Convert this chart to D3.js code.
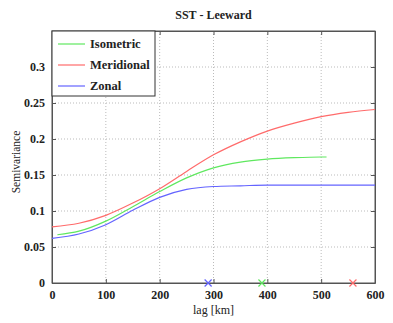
<!DOCTYPE html>
<html>
<head>
<meta charset="utf-8">
<script src="https://cdn.jsdelivr.net/npm/d3@7"></script>
<style>
  body { margin: 0; background: #fff; }
  text { font-family: "Liberation Serif", "DejaVu Serif", serif; fill: #222; }
</style>
</head>
<body>
<div id="chart"></div>
<script>
"use strict";

// values
const lagRed = [0, 50, 100, 150, 200, 250, 300, 350, 400, 450, 500, 550, 600];
const meridional = [0.078, 0.083, 0.094, 0.111, 0.131, 0.155, 0.178, 0.196, 0.211, 0.222, 0.231, 0.237, 0.241];
const lagGreen = [10, 50, 100, 150, 200, 250, 300, 350, 400, 450, 500, 510];
const isometric = [0.067, 0.072, 0.086, 0.106, 0.127, 0.146, 0.160, 0.168, 0.172, 0.174, 0.175, 0.175];
const lagBlue = [0, 50, 100, 150, 200, 250, 300, 350, 400, 450, 500, 550, 600];
const zonal = [0.062, 0.068, 0.081, 0.101, 0.119, 0.130, 0.134, 0.135, 0.136, 0.136, 0.136, 0.136, 0.136];
const ranges = [{name: "Zonal", lag: 290}, {name: "Isometric", lag: 390}, {name: "Meridional", lag: 559}];
const xTicks = [0, 100, 200, 300, 400, 500, 600];
const yTicks = [0, 0.05, 0.1, 0.15, 0.2, 0.25, 0.3];

const colors = {Isometric: "#5fe85f", Meridional: "#ff6b6b", Zonal: "#6464ff"};
const series = [
    {name: "Isometric", lag: lagGreen, val: isometric},
    {name: "Meridional", lag: lagRed, val: meridional},
    {name: "Zonal", lag: lagBlue, val: zonal}
];

const W = 393, H = 323;
const m = {left: 52, right: 18, top: 31, bottom: 40};
const pw = W - m.left - m.right, ph = H - m.top - m.bottom;

const svg = d3.select("#chart").append("svg").attr("width", W).attr("height", H);
const g = svg.append("g").attr("transform", "translate(" + m.left + "," + m.top + ")");

const x = d3.scaleLinear().domain([0, 600]).range([0, pw]);
const y = d3.scaleLinear().domain([0, 0.35]).range([ph, 0]);

// grid
g.append("g").selectAll("line").data(xTicks.slice(1, -1)).join("line")
    .attr("x1", d => x(d)).attr("x2", d => x(d)).attr("y1", 0).attr("y2", ph)
    .attr("stroke", "#bbb").attr("stroke-dasharray", "1,2");
g.append("g").selectAll("line").data(yTicks.slice(1)).join("line")
    .attr("x1", 0).attr("x2", pw).attr("y1", d => y(d)).attr("y2", d => y(d))
    .attr("stroke", "#bbb").attr("stroke-dasharray", "1,2");

// axes (ticks inward, mirrored)
const fmt = d => d === 0 ? "0" : String(d);
g.append("g").attr("transform", "translate(0," + ph + ")")
    .call(d3.axisBottom(x).tickValues(xTicks).tickSizeInner(-4).tickSizeOuter(0).tickPadding(7).tickFormat(fmt));
g.append("g")
    .call(d3.axisLeft(y).tickValues(yTicks).tickSizeInner(-4).tickSizeOuter(0).tickPadding(7).tickFormat(fmt));
g.append("g")
    .call(d3.axisTop(x).tickValues(xTicks).tickSizeInner(-4).tickSizeOuter(0).tickFormat(""));
g.append("g").attr("transform", "translate(" + pw + ",0)")
    .call(d3.axisRight(y).tickValues(yTicks).tickSizeInner(-4).tickSizeOuter(0).tickFormat(""));
g.selectAll(".domain").attr("stroke", "#555");
g.selectAll(".tick line").attr("stroke", "#555");
g.selectAll(".tick text").style("font-size", "12px").style("font-weight", "bold").attr("fill", "#222")
    .style("font-family", "'Liberation Serif', serif");
g.append("rect").attr("width", pw).attr("height", ph).attr("fill", "none").attr("stroke", "#555");

// curves
const line = d3.line().x(d => x(d[0])).y(d => y(d[1])).curve(d3.curveMonotoneX);
series.forEach(s => {
    g.append("path")
        .datum(s.lag.map((l, i) => [l, s.val[i]]))
        .attr("d", line)
        .attr("fill", "none")
        .attr("stroke", colors[s.name])
        .attr("stroke-width", 1.2);
});

// range markers
g.append("g").selectAll("path").data(ranges).join("path")
    .attr("d", d => {
        const cx = x(d.lag), cy = y(0), r = 3.5;
        return "M" + (cx - r) + "," + (cy - r) + "L" + (cx + r) + "," + (cy + r) +
            "M" + (cx - r) + "," + (cy + r) + "L" + (cx + r) + "," + (cy - r);
    })
    .attr("stroke", d => colors[d.name]).attr("stroke-width", 1.2).attr("fill", "none");

// legend
const lg = g.append("g");
lg.append("rect").attr("x", 0).attr("y", 0).attr("width", 103).attr("height", 65)
    .attr("fill", "#fff").attr("stroke", "#333").attr("stroke-width", 1);
series.forEach((s, i) => {
    const yy = 13 + i * 21;
    lg.append("line").attr("x1", 6).attr("x2", 33).attr("y1", yy).attr("y2", yy)
        .attr("stroke", colors[s.name]).attr("stroke-width", 1.2);
    lg.append("text").attr("x", 38).attr("y", yy + 4).text(s.name)
        .style("font-size", "12.5px").style("font-weight", "bold");
});

// titles
svg.append("text").attr("x", m.left + pw / 2).attr("y", 19).attr("text-anchor", "middle")
    .style("font-size", "12px").style("font-weight", "bold").text("SST - Leeward");
svg.append("text").attr("x", m.left + pw / 2).attr("y", H - 9).attr("text-anchor", "middle")
    .style("font-size", "12px").text("lag [km]");
svg.append("text").attr("transform", "translate(20,162) rotate(-90)")
    .attr("text-anchor", "middle").style("font-size", "11.5px").text("Semivariance");
</script>
</body>
</html>
